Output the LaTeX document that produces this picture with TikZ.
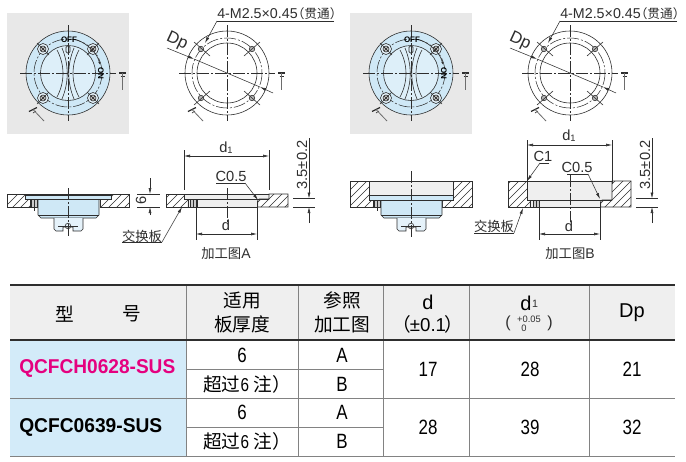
\documentclass[tikz,border=0pt]{standalone}
\usepackage{graphicx}
\usepackage{fontspec}
\setmainfont{Liberation Sans}
\newfontfamily\cjk{Noto Sans CJK SC}
\usetikzlibrary{arrows.meta}
\definecolor{ink}{HTML}{2E2E2E}
\definecolor{iceblue}{HTML}{CFE8F6}
\definecolor{cellblue}{HTML}{D3EBF9}
\definecolor{headgray}{HTML}{EFEFEF}
\definecolor{panel}{HTML}{E8E8E8}
\definecolor{holegray}{HTML}{EFEFEF}
\definecolor{magentax}{HTML}{E5007F}
\newcommand\nar[1]{\scalebox{.82}[1]{#1}}
\tikzset{
  thin line/.style={draw=ink,line width=.45pt},
  center line/.style={draw=ink,line width=.4pt,dash pattern=on 9pt off 1.5pt on 1.5pt off 1.5pt},
  dim/.style={draw=ink,line width=.4pt},
  dimarrow/.style={dim,-{Latex[length=4.5pt,width=2.2pt]}},
  dimboth/.style={dim,{Latex[length=4.5pt,width=2.2pt]}-{Latex[length=4.5pt,width=2.2pt]}},
  lbl/.style={inner sep=0pt,text=ink,font=\fontsize{11}{13}\selectfont},
  cjklbl/.style={inner sep=0pt,text=ink,font=\fontsize{10}{12}\selectfont\cjk},
  cell/.style={inner sep=0pt,text=black,font=\fontsize{15.5}{18}\selectfont,align=center},
  cjkcell/.style={inner sep=0pt,text=black,font=\fontsize{14}{18}\selectfont\cjk,align=center},
  model/.style={inner sep=0pt,anchor=west,font=\fontsize{15}{17}\selectfont\bfseries},
  rule/.style={draw=ink!60,line width=.7pt},
  heavy/.style={draw=ink,line width=1pt},
  tolnum/.style={inner sep=0pt,text=ink,font=\fontsize{7}{8}\selectfont}
}
\newcommand\hatched[1]{%
  \begin{scope}\clip #1 -- cycle;
  \foreach \k in {0,8,...,680}{\draw[ink,line width=.35pt] (\k,212)--++(36,-36);}
  \end{scope}
  \draw[thin line] #1 -- cycle;}
\newcommand\sectionmarks{%
  \draw[ink,line width=.9pt] (119,73)--(126,73);
  \draw[ink,line width=.5pt] (120.5,76)--(124.5,76);
  \draw[ink!70,line width=.6pt] (122.5,73)--(122.5,90);
  \draw[ink,line width=.9pt] (29,111.5)--(37,107.5);
  \draw[ink,line width=.5pt] (33,113)--(36,111);
  \draw[ink!70,line width=.6pt] (33,109.5)--(44,121);
}
\newcommand\device{%
  \draw[thin line,fill=iceblue] (38,199)--(38,215)--(41,218)--(96,218)--(99,215)--(99,199);
  \draw[thin line] (38,215)--(99,215);
  \draw[thin line,fill=iceblue!55] (54,218)--(54,229)--(56,231)--(63,231)--(63,227)--(73,227)--(73,231)--(81,231)--(83,229)--(83,218);
  \draw[thin line] (68,226) circle (2.8);
  \draw[thin line] (58,226)--(78,226);
  \draw[thin line,fill=ink!25] (31,199) rectangle (37,207);
  \draw[thin line] (34,199)--(34,211);
}
\begin{document}
\begin{tikzpicture}[x=.75pt,y=-.75pt]
\useasboundingbox (0,0) rectangle (686,461);
\fill[white] (0,0) rectangle (686,461);
% ---------- top views ----------
\foreach \p/\dx in {a/0,b/343}{
\begin{scope}[shift={(\dx,0)}]
  \fill[panel] (7,13) rectangle (129,134);
  \draw[thin line,fill=iceblue] (68,73) circle (42);
  \draw[thin line,fill=iceblue!70] (68,73) circle (27.5);
  \draw[center line] (68,73) circle (34);
  % handle
  \draw[thin line] (57,50) .. controls (65,65) and (65,82) .. (57,97)
                   (62,48) .. controls (69,65) and (69,82) .. (62,99)
                   (79,50) .. controls (71,65) and (71,82) .. (79,97)
                   (74,48) .. controls (67,65) and (67,82) .. (74,99);
  \draw[thin line,rounded corners=1pt] (66,46) rectangle (70,53);
  % bolts
  \foreach \bx/\by in {43/49,93/49,43/98,93/98}{
    \draw[thin line,fill=iceblue!55] (\bx,\by) circle (5.5);
    \draw[thin line,fill=ink!25] (\bx,\by) circle (3);
    \draw[thin line] (\bx-2,\by-2)--(\bx+2,\by+2) (\bx-2,\by+2)--(\bx+2,\by-2);
  }
  \draw[thin line] (37,43)--(49,55) (99,43)--(87,55) (37,104)--(49,92) (99,104)--(87,92);
  \draw[center line] (68,25)--(68,121) (20,73)--(116,73);
  \node[inner sep=0pt,font=\fontsize{6}{7}\selectfont\bfseries] (off\p) at (69,40) {OFF};
  \node[inner sep=0pt,rotate=-90,font=\fontsize{6}{7}\selectfont\bfseries] (on\p) at (101,73) {ON};
  \draw[thin line,-{Latex[length=2.5pt,width=1.5pt]}] (77,40) .. controls (88,44) and (97,53) .. (100,65);
  \sectionmarks
  % line view
  \draw[thin line] (227,73) circle (42);
  \draw[thin line] (227,73) circle (30);
  \draw[center line] (227,73) circle (35);
  \foreach \bx/\by in {201/49,252/49,201/98,252/98}{
    \draw[thin line,fill=ink!35] (\bx,\by) circle (2.7);
  }
  \draw[thin line] (194,42)--(210,56) (260,42)--(244,56) (194,105)--(210,91) (260,105)--(244,91);
  \draw[center line] (227,25)--(227,121) (179,73)--(275,73);
  \begin{scope}[shift={(159,0)}]\sectionmarks\end{scope}
  \node[lbl,anchor=base west,font=\fontsize{10.7}{12}\selectfont] (thread\p) at (217,18) {4-M2.5×0.45\hspace{-4.5pt}{\cjk\fontsize{9.5}{11}\selectfont（贯通）}};
  \coordinate (threadL\p) at (217,21);
  \coordinate (threadR\p) at (334,21);
  \coordinate (threadT\p) at (205,43);
  \draw[dim] (threadR\p)--(threadL\p);
  \draw[dimarrow] (threadL\p)--(threadT\p);
  \node[lbl,rotate=-25,font=\fontsize{12.5}{14}\selectfont] (dp\p) at (177,41) {Dp};
  \coordinate (dpA\p) at (167,48); \coordinate (dpB\p) at (273,93);
  \coordinate (dpC\p) at (194,59); \coordinate (dpD\p) at (260,87);
  \draw[dim] (dpC\p)--(dpD\p);
  \draw[dimarrow] (dpA\p)--(dpC\p);
  \draw[dimarrow] (dpB\p)--(dpD\p);
\end{scope}}
% ---------- section: device in plate A ----------
\hatched{(7,194)--(27,194)--(27,199)--(30,199)--(30,207)--(7,207)}
\hatched{(129,194)--(111,194)--(111,199)--(100,199)--(100,207)--(129,207)}
\device
\draw[thin line,fill=iceblue] (25,195) rectangle (111,199);
\draw[heavy] (25,194.5)--(111,194.5);
\draw[center line] (68,188)--(68,237);
% dim 6
\coordinate (sixT) at (150,194); \coordinate (sixB) at (150,207);
\draw[dim] (137,194)--(160,194) (137,207)--(160,207);
\draw[dimarrow] (150,178)--(sixT);
\draw[dimarrow] (150,215)--(sixB);
\node[lbl,rotate=90] (six) at (141,200) {6};
% ---------- drawing A ----------
\fill[holegray] (184,194) rectangle (269,199) (187,199) rectangle (259,207);
\hatched{(166,194)--(184,194)--(184,199)--(188,199)--(188,207)--(166,207)}
\hatched{(288,194)--(269,194)--(269,199)--(259,199)--(257.5,201)--(257.5,207)--(288,207)}
\draw[thin line] (184,194)--(269,194) (184,199)--(269,199) (188,207)--(257,207) (197,199)--(197,207);
\draw[thin line,fill=ink!25] (190,199) rectangle (196,207);
\draw[thin line] (193,199)--(193,207);
\draw[center line] (227,188)--(227,222);
\coordinate (aL) at (184,156); \coordinate (aR) at (269,156);
\draw[dim] (184,150)--(184,190) (269,150)--(269,190);
\draw[dimboth] (aL)--(aR);
\node[lbl] (ad1) at (226,148) {d\raisebox{-.5pt}{\fontsize{7}{8}\selectfont 1}};
\node[lbl] (ac) at (231,176) {C0.5};
\coordinate (acA) at (216,183); \coordinate (acB) at (245,183); \coordinate (acC) at (258,200);
\draw[dim] (acA)--(acB);
\draw[dimarrow] (acB)--(acC);
\coordinate (adL) at (196,234); \coordinate (adR) at (257,234);
\draw[dim] (196,207)--(196,240) (257,207)--(257,240);
\draw[dimboth] (adL)--(adR);
\node[lbl] (ad) at (226,225) {d};
\node[lbl,rotate=90] (atol) at (302,165) {3.5±0.2};
\draw[dim] (293,198.5)--(315,198.5) (293,207)--(315,207);
\coordinate (atA) at (309,198.5); \coordinate (atB) at (309,207);
\draw[dimarrow] (309,138)--(atA);
\draw[dimarrow] (309,223)--(atB);
\node[cjklbl] (asw) at (142,236) {交换板};
\coordinate (aswL) at (122,242); \coordinate (aswR) at (162,242); \coordinate (aswT) at (182,207);
\draw[dim] (aswL)--(aswR);
\draw[dimarrow] (aswR)--(aswT);
\node[cjklbl] (acap) at (226,254) {加工图\fontsize{10.5}{11}\selectfont\rmfamily A};
% ---------- section: device in plate B ----------
\fill[holegray] (369,181) rectangle (453,195);
\hatched{(350,181)--(369,181)--(369,200)--(373,200)--(373,207)--(350,207)}
\hatched{(472,181)--(453,181)--(453,200)--(442,200)--(442,207)--(472,207)}
\begin{scope}[shift={(343,0)}]
\device
\draw[thin line,fill=iceblue] (26,195.5) rectangle (110,200);
\draw[heavy] (26,195.5)--(110,195.5);
\draw[center line] (68,171)--(68,237);
\end{scope}
\draw[thin line] (369,181)--(453,181);
% ---------- drawing B ----------
\fill[holegray] (527,181) rectangle (612,200) (529,200) rectangle (602,207);
\hatched{(508,181)--(527,181)--(527,200)--(530,200)--(530,207)--(508,207)}
\hatched{(631,181)--(612,181)--(612,200)--(602,200)--(600.5,202)--(600.5,207)--(631,207)}
\draw[thin line] (527,181)--(612,181) (527,200)--(612,200) (530,207)--(600,207) (539,200)--(539,207);
\draw[thin line,fill=ink!25] (533,200) rectangle (539,207);
\draw[thin line] (536,200)--(536,207);
\draw[center line] (570,175)--(570,222);
\coordinate (bL) at (527,145); \coordinate (bR) at (612,145);
\draw[dim] (527,140)--(527,181) (612,140)--(612,184);
\draw[dimboth] (bL)--(bR);
\node[lbl] (bd1) at (569,136) {d\raisebox{-.5pt}{\fontsize{7}{8}\selectfont 1}};
\node[lbl] (bc1) at (543,156) {C1};
\coordinate (bcA) at (549,163); \coordinate (bcB) at (540,163); \coordinate (bcC) at (527,181);
\draw[dim] (bcA)--(bcB);
\draw[dimarrow] (bcB)--(bcC);
\node[lbl] (bc) at (577,167) {C0.5};
\coordinate (bdA) at (567,174); \coordinate (bdB) at (588,174); \coordinate (bdC) at (600,199);
\draw[dim] (bdA)--(bdB);
\draw[dimarrow] (bdB)--(bdC);
\coordinate (bdL) at (539,234); \coordinate (bdR) at (600,234);
\draw[dim] (539,207)--(539,240) (600,207)--(600,240);
\draw[dimboth] (bdL)--(bdR);
\node[lbl] (bd) at (569,226) {d};
\node[lbl,rotate=90] (btol) at (645,165) {3.5±0.2};
\draw[dim] (636,198.5)--(658,198.5) (636,207)--(658,207);
\coordinate (btA) at (652,198.5); \coordinate (btB) at (652,207);
\draw[dimarrow] (652,138)--(btA);
\draw[dimarrow] (652,223)--(btB);
\node[cjklbl] (bsw) at (494,226) {交换板};
\coordinate (bswL) at (474,233); \coordinate (bswR) at (514,233); \coordinate (bswT) at (523,208);
\draw[dim] (bswL)--(bswR);
\draw[dimarrow] (bswR)--(bswT);
\node[cjklbl] (bcap) at (570,254) {加工图\fontsize{10.5}{11}\selectfont\rmfamily B};
% ---------- table ----------
\fill[headgray] (10,285) rectangle (675,340);
\fill[cellblue] (10,340) rectangle (186,456);
\draw[rule] (186,369.5)--(383,369.5) (186,427)--(383,427);
\draw[rule] (10,398)--(675,398) (10,456)--(675,456);
\draw[rule] (186,285)--(186,456) (298,285)--(298,456) (383,285)--(383,456) (469,285)--(469,456) (589,285)--(589,456);
\draw[heavy] (10,285)--(675,285) (10,340)--(675,340);
\node[cjkcell] (h1a) at (65,314) {型}; \node[cjkcell] (h1b) at (132,314) {号};
\node[cjkcell] (h2) at (242,312) {适用\\板厚度};
\node[cjkcell] (h3) at (342,312) {参照\\加工图};
\node[cell,font=\fontsize{15}{18}\selectfont] (h4a) at (428,302) {d};
\node[cell,font=\fontsize{14}{18}\selectfont] (h4b) at (428,324) {{\cjk（}\hspace{-1pt}±0.1\hspace{-1pt}{\cjk）}};
\node[cell,font=\fontsize{15}{18}\selectfont] (h5) at (526,303) {d};
\node[tolnum,text=ink,font=\fontsize{8}{9}\selectfont] (h5s) at (535,304) {1};
\node[tolnum] (h5p) at (529,319) {+0.05};
\node[tolnum] (h5z) at (524,328) {0};
\node[tolnum,font=\fontsize{12}{13}\selectfont] (h5l) at (508,323) {(};
\node[tolnum,font=\fontsize{12}{13}\selectfont] (h5r) at (550,323) {)};
\node[cell,font=\fontsize{15}{18}\selectfont] (h6) at (632,313) {Dp};
\node[model,text=magentax] (m1) at (19,368) {\scalebox{.955}[1]{QCFCH0628-SUS}};
\node[model,text=black] (m2) at (19,427) {\scalebox{.96}[1]{QCFC0639-SUS}};
\foreach \r/\y in {a/355,c/412}{
  \node[cell] (t\r) at (242,\y) {\nar{6}};
  \node[cell] (u\r) at (342,\y) {\nar{A}};
}
\foreach \r/\y in {b/384,d/441}{
  \node[cjkcell] (t\r) at (247,\y) {超过{\rmfamily\nar{6}} 注）};
  \node[cell] (u\r) at (342,\y) {\nar{B}};
}
\node[cell] (v1) at (428,369) {\nar{17}};
\node[cell] (w1) at (530,369) {\nar{28}};
\node[cell] (x1) at (632,369) {\nar{21}};
\node[cell] (v2) at (428,427) {\nar{28}};
\node[cell] (w2) at (530,427) {\nar{39}};
\node[cell] (x2) at (632,427) {\nar{32}};
\end{tikzpicture}
\end{document}
